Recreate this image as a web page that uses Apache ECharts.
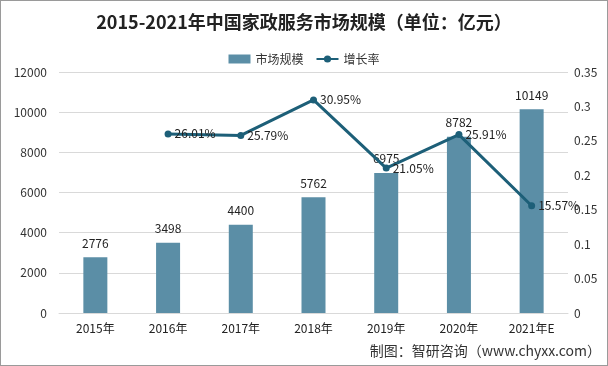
<!DOCTYPE html>
<html><head><meta charset="utf-8">
<script src="https://cdn.jsdelivr.net/npm/echarts@6/dist/echarts.min.js"></script>
<style>html,body{margin:0;padding:0;background:#fff}#c{width:608px;height:366px;box-sizing:border-box;border:1px solid #9a9a9a}</style>
</head><body><div id="c"></div>
<script>
const categories = ['2015年','2016年','2017年','2018年','2019年','2020年','2021年E'];
const marketSize = [2776, 3498, 4400, 5762, 6975, 8782, 10149];
const growthRate = [null, 0.2601, 0.2579, 0.3095, 0.2105, 0.2591, 0.1557];
const leftTicks = {min:0, max:12000, interval:2000};
const rightTicks = {min:0, max:0.35, interval:0.05};

const chart = echarts.init(document.getElementById('c'));
const font = '"Noto Sans CJK SC", "Noto Sans", sans-serif';
chart.setOption({
  animation:false,
  textStyle:{fontFamily:font},
  title:{text:'2015-2021年中国家政服务市场规模（单位：亿元）',left:'center',top:7,
    textStyle:{fontSize:18,fontWeight:'bold',color:'#222',fontFamily:font}},
  legend:{top:47,left:'center',itemGap:12,itemWidth:22,itemHeight:9,
    textStyle:{fontSize:12,color:'#333'},
    data:[{name:'市场规模',icon:'rect'},{name:'增长率'}]},
  graphic:[{type:'text',right:6,bottom:7,style:{text:'制图：智研咨询（www.chyxx.com）',fontSize:14,fill:'#333',fontFamily:font}}],
  grid:{left:58,right:39,top:71,bottom:52},
  xAxis:{type:'category',data:categories,axisTick:{show:false},
    axisLine:{lineStyle:{color:'#d9d9d9'}},
    axisLabel:{color:'#222',fontSize:12,margin:9}},
  yAxis:[
    {type:'value',min:leftTicks.min,max:leftTicks.max,interval:leftTicks.interval,
     axisLabel:{color:'#333',fontSize:12,margin:12,formatter:v=>String(v)},
     splitLine:{lineStyle:{color:'#d9d9d9'}},axisLine:{show:false},axisTick:{show:false}},
    {type:'value',min:rightTicks.min,max:rightTicks.max,interval:rightTicks.interval,
     axisLabel:{color:'#333',fontSize:12,margin:6,formatter:v=>String(+v.toFixed(2))},
     splitLine:{show:false},axisLine:{show:false},axisTick:{show:false}}
  ],
  series:[
    {name:'市场规模',type:'bar',data:marketSize,barWidth:24,
     itemStyle:{color:'#5b8ea6'},
     label:{show:true,position:'top',distance:8,color:'#222',fontSize:12}},
    {name:'增长率',type:'line',yAxisIndex:1,data:growthRate,connectNulls:false,
     symbol:'circle',symbolSize:7,
     lineStyle:{color:'#1d5f78',width:3},itemStyle:{color:'#1d5f78'},
     label:{show:true,position:'right',distance:3,color:'#222',fontSize:12,
       formatter:p=>(p.value*100).toFixed(2)+'%'}}
  ]
});
</script></body></html>
